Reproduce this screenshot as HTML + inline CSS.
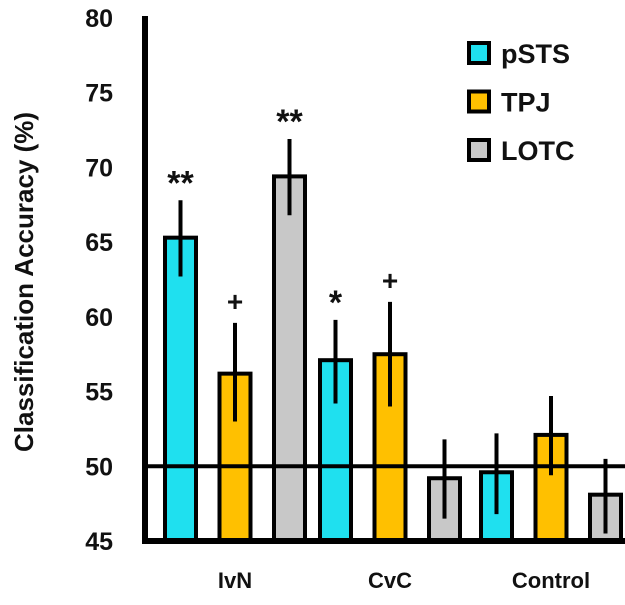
<!DOCTYPE html>
<html><head><meta charset="utf-8"><style>
body{margin:0;background:#fff;}
svg text{font-family:"Liberation Sans",Arial,sans-serif;font-weight:bold;}
</style></head><body>
<svg id="chart" width="625" height="600" viewBox="0 0 625 600"></svg>
<script>
const categories=["IvN","CvC","Control"];
const seriesNames=["pSTS","TPJ","LOTC"];
const seriesColors=["#1fe0ef","#ffc000","#c8c8c8"];
const pSTS=[65.3,57.1,49.6];
const TPJ=[56.2,57.5,52.1];
const LOTC=[69.4,49.2,48.1];
const errLow=[[62.7,54.2,46.8],[53.0,54.0,49.4],[66.8,46.5,45.5]];
const errHigh=[[67.8,59.8,52.2],[59.6,61.0,54.7],[71.9,51.8,50.5]];
const sigMarks=[["**","*",""],["+","+",""],["**","",""]];
const yTicks=[45,50,55,60,65,70,75,80];
const values=[pSTS,TPJ,LOTC];
const NS="http://www.w3.org/2000/svg";
const svg=document.getElementById("chart");
const y0=541,yTop=18,vMin=45,vMax=80;
function y(v){return y0-(v-vMin)/(vMax-vMin)*(y0-yTop);}
const groupCenters=[235,390,551],barStep=54.5,barW=31;
function x(g,s){return groupCenters[g]+(s-1)*barStep;}
function mk(tag,attrs){const e=document.createElementNS(NS,tag);for(const k in attrs)e.setAttribute(k,attrs[k]);svg.appendChild(e);return e;}
yTicks.forEach(t=>{const e=mk("text",{x:113,y:y(t)+9,"text-anchor":"end","font-size":25,fill:"#111"});e.textContent=t;

});
const yt=mk("text",{x:0,y:0,transform:"translate(33,282) rotate(-90)","text-anchor":"middle","font-size":26,fill:"#111"});
yt.textContent="Classification Accuracy (%)";


values.forEach((arr,s)=>arr.forEach((v,g)=>{
const cx=x(g,s);
const r=mk("rect",{x:cx-barW/2,y:y(v),width:barW,height:y0-y(v),fill:seriesColors[s],stroke:"#000","stroke-width":4});


const l=mk("line",{x1:cx,x2:cx,y1:y(errLow[s][g]),y2:y(errHigh[s][g]),stroke:"#000","stroke-width":4});


if(sigMarks[s][g]){const isStar=sigMarks[s][g].indexOf("*")>=0;
const t=mk("text",{x:cx,y:y(errHigh[s][g])-(isStar?6:12),"text-anchor":"middle","font-size":isStar?34:28,fill:"#111"});t.textContent=sigMarks[s][g];

}
}));
const ax=mk("line",{x1:145,x2:145,y1:16,y2:544,stroke:"#000","stroke-width":6});


const bx=mk("line",{x1:142,x2:625,y1:y0,y2:y0,stroke:"#000","stroke-width":6});


const ch=mk("line",{x1:142,x2:625,y1:y(50),y2:y(50),stroke:"#000","stroke-width":4});


categories.forEach((c,g)=>{const t=mk("text",{x:groupCenters[g],y:588,"text-anchor":"middle","font-size":22,fill:"#111"});t.textContent=c;

});
seriesNames.forEach((n,s)=>{const cy=53+s*48.5;
const r=mk("rect",{x:469,y:cy-10,width:20,height:20,fill:seriesColors[s],stroke:"#000","stroke-width":4});


const t=mk("text",{x:501,y:cy+10,"font-size":27,fill:"#111"});t.textContent=n;

});
</script>
</body></html>
